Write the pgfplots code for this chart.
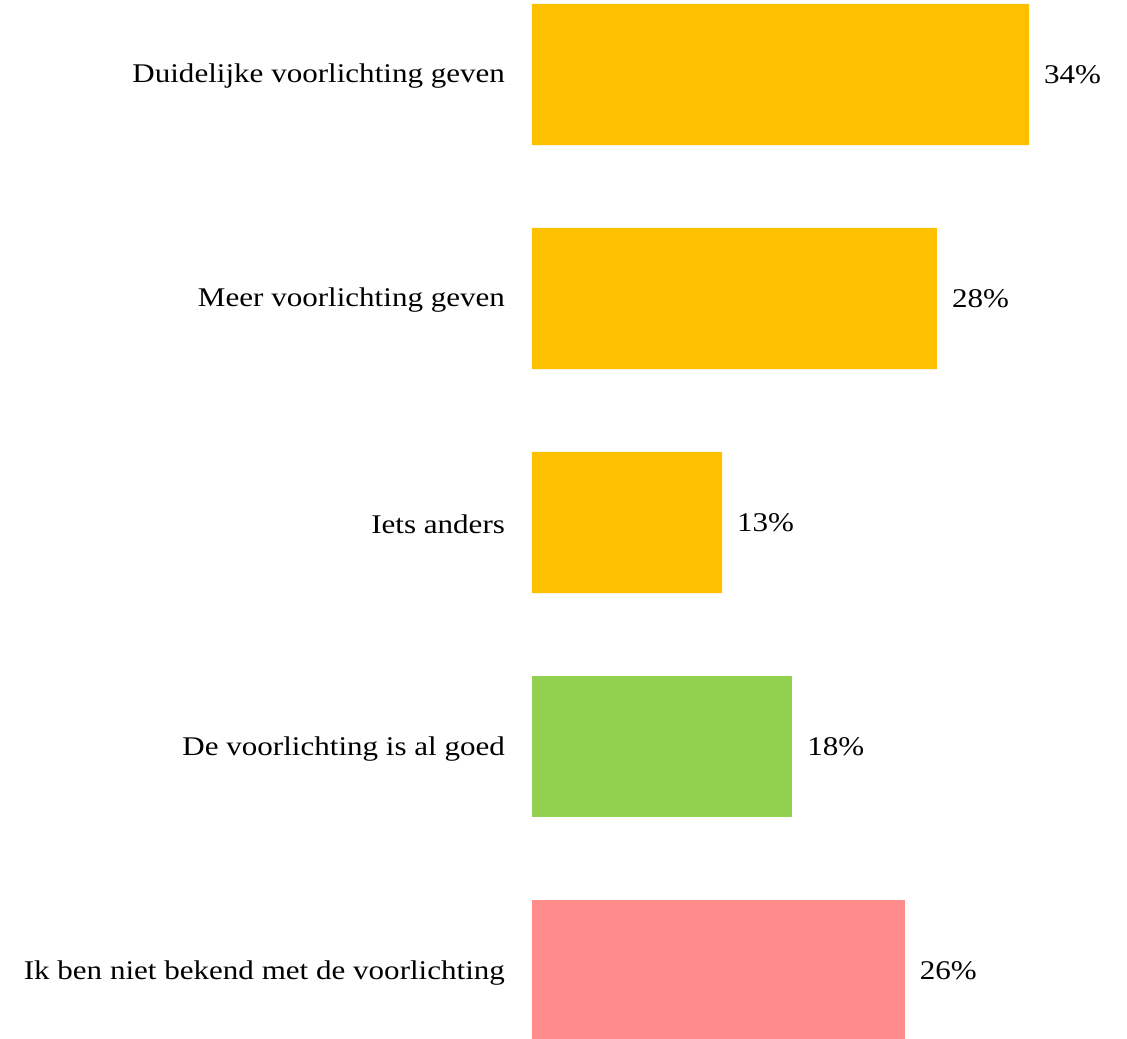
\documentclass[border=0pt]{standalone}
\usepackage{pgfplots}
\pgfplotsset{compat=1.18}
\usepackage{fontspec}
\setmainfont[FakeStretch=1.15]{Liberation Serif}

\definecolor{amber}{HTML}{FFC000}
\definecolor{lgreen}{HTML}{92D050}
\definecolor{salmon}{HTML}{FF8B8B}

\begin{document}
\begin{tikzpicture}
  \begin{axis}[
      scale only axis,
      width=297.5pt, height=519pt,
      xbar, bar shift=0pt, bar width=0.63,
      xmin=0, xmax=40.7,
      ymin=-0.3326, ymax=4.301,
      y dir=reverse,
      axis line style={draw=none},
      major tick length=0pt,
      xtick=\empty,
      ytick={0,1,2,3,4},
      yticklabels={Duidelijke voorlichting geven, Meer voorlichting geven, Iets anders, De voorlichting is al goed, Ik ben niet bekend met de voorlichting},
      yticklabel style={font=\fontsize{13.5}{15}\selectfont, xshift=-10pt, yshift=-1pt},
      /pgf/number format/assume math mode=true,
      nodes near coords={\pgfmathprintnumber[fixed,precision=0]{\pgfplotspointmeta}\%},
      nodes near coords style={font=\fontsize{13.5}{15}\selectfont, anchor=west, xshift=4pt},
      point meta=x,
      clip=false,
    ]
    \addplot[draw=none, fill=amber] coordinates {(34,0) (27.7,1) (13,2)};
    \addplot[draw=none, fill=lgreen] coordinates {(17.8,3)};
    \addplot[draw=none, fill=salmon] coordinates {(25.5,4)};
  \end{axis}
  \pgfresetboundingbox
  \path (current axis.south west) ++(-266pt,0) rectangle (current axis.north east);
\end{tikzpicture}
\end{document}
